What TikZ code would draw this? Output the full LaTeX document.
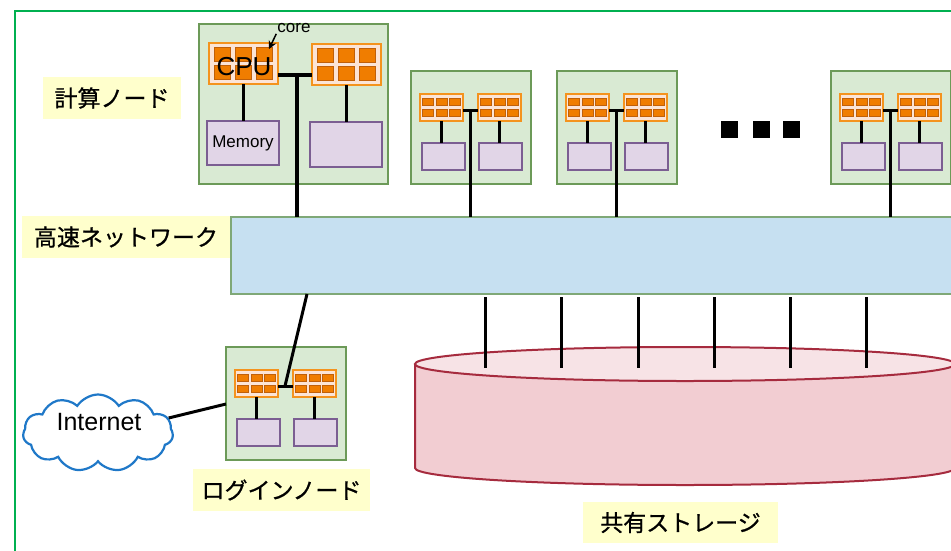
\documentclass[tikz,border=0pt]{standalone}
\usepackage{fontspec}
\setmainfont{Liberation Sans}
\newfontfamily\jpfont[FakeBold=0.8]{Noto Sans CJK JP}
\usetikzlibrary{shapes.symbols,arrows.meta}

\definecolor{framegreen}{HTML}{00B050}
\definecolor{nodefill}{HTML}{D9EAD3}
\definecolor{nodeline}{HTML}{6C9A58}
\definecolor{cpufill}{HTML}{FCE4D6}
\definecolor{cpuline}{HTML}{F4931E}
\definecolor{corefill}{HTML}{F07D00}
\definecolor{coreline}{HTML}{C0600A}
\definecolor{memfill}{HTML}{E1D5E7}
\definecolor{memline}{HTML}{7B5E92}
\definecolor{netfill}{HTML}{C6E0F1}
\definecolor{netline}{HTML}{7FA877}
\definecolor{tagfill}{HTML}{FFFFCC}
\definecolor{cylside}{HTML}{F2CDD2}
\definecolor{cyltop}{HTML}{F7E3E6}
\definecolor{cylline}{HTML}{A62B3E}
\definecolor{cloudline}{HTML}{1F78C8}

\tikzset{
  box/.style={rectangle, inner sep=0pt, outer sep=0pt},
  hostbox/.style={box, draw=nodeline, fill=nodefill, line width=1.3pt},
  cpubox/.style={box, draw=cpuline, fill=cpufill, line width=1.3pt},
  corebox/.style={box, draw=coreline, fill=corefill, line width=0.8pt},
  membox/.style={box, draw=memline, fill=memfill, line width=1.3pt},
  netbox/.style={box, draw=netline, fill=netfill, line width=1.3pt},
  tag/.style={box, fill=tagfill, font=\jpfont\fontsize{23}{25}\selectfont},
  wire/.style={line width=3.5pt, black},
  thinwire/.style={line width=3pt, black},
  stline/.style={line width=3pt, black, shorten <=3pt},
  dotbox/.style={box, fill=black, minimum size=17pt},
}

% CPU package: name, centre x, centre y, width, height, core width, core height
\newcommand\cpuchip[7]{%
  \node[cpubox, minimum width=#4pt, minimum height=#5pt] (#1) at (#2,#3) {};
  \foreach \i in {1,2,3}{
    \foreach \j in {1,2}{
      \pgfmathsetmacro\cxx{#2+(\i-2)*(#4+#6)/4}
      \pgfmathsetmacro\cyy{#3+(2*\j-3)*(#5+#7)/6}
      \node[corebox, minimum width=#6pt, minimum height=#7pt] (#1-c\j\i) at (\cxx,\cyy) {};
    }
  }
}

% Small host with two CPUs and two memories: name, left x, top y
\newcommand\smallhost[3]{%
  \node[hostbox, minimum width=120pt, minimum height=113pt] (#1) at (#2+60,#3+56.5) {};
  \cpuchip{#1-ca}{#2+30.5}{#3+36.5}{43}{27}{11}{7}
  \cpuchip{#1-cb}{#2+88.5}{#3+36.5}{43}{27}{11}{7}
  \node[membox, minimum width=43pt, minimum height=27pt] (#1-ma) at (#2+32.5,#3+85.5) {};
  \node[membox, minimum width=43pt, minimum height=27pt] (#1-mb) at (#2+89.5,#3+85.5) {};
  \coordinate (#1-j) at (#2+59,#3+39);
  \draw[thinwire] (#1-ca.south) -- (#1-ca.south |- #1-ma.north);
  \draw[thinwire] (#1-cb.south) -- (#1-cb.south |- #1-mb.north);
  \draw[thinwire] (#1-ca.east |- #1-j) -- (#1-cb.west |- #1-j);
}

\begin{document}
\begin{tikzpicture}[x=1pt,y=-1pt]
\useasboundingbox (0,0) rectangle (951,550);
\clip (0,0) rectangle (951,550);

% outer frame
\draw[framegreen, line width=2pt] (15,11) rectangle (1000,600);

% high-speed network
\node[netbox, minimum width=740pt, minimum height=77pt] (net) at (601,255.5) {};

% first compute node (detailed)
\node[hostbox, minimum width=189pt, minimum height=160pt] (cn1) at (293.5,104) {};
\cpuchip{cn1-ca}{243.5}{63.5}{69}{41}{16}{14}
\cpuchip{cn1-cb}{346.5}{64.5}{69}{41}{16}{14}
\node[membox, minimum width=72pt, minimum height=44pt, font=\fontsize{17}{19}\selectfont] (cn1-ma) at (243,143) {Memory};
\node[membox, minimum width=72pt, minimum height=45pt] (cn1-mb) at (346,144.5) {};
\coordinate (cn1-j) at (297,75);
\draw[wire] (cn1-ca.south) -- (cn1-ca.south |- cn1-ma.north);
\draw[wire] (cn1-cb.south) -- (cn1-cb.south |- cn1-mb.north);
\draw[wire] (cn1-ca.east |- cn1-j) -- (cn1-cb.west |- cn1-j);
\draw[wire] (cn1-j) -- (cn1-j |- net.north);
\node[font=\fontsize{26}{28}\selectfont, inner sep=0pt] (cputxt) at (244,67) {CPU};
\node[font=\fontsize{17}{19}\selectfont, inner sep=1pt] (coretxt) at (294,28) {core};
\coordinate (corehead) at (269,49);
\draw[-{Stealth[length=8pt,width=8pt]}, line width=1.5pt] (coretxt.south west) -- (corehead);

% further compute nodes
\smallhost{cn2}{411}{71}
\smallhost{cn3}{557}{71}
\smallhost{cn4}{831}{71}
\draw[thinwire] (cn2-j) -- (cn2-j |- net.north);
\draw[thinwire] (cn3-j) -- (cn3-j |- net.north);
\draw[thinwire] (cn4-j) -- (cn4-j |- net.north);

% ellipsis
\node[dotbox] (d1) at (729,129) {};
\node[dotbox] (d2) at (761,129) {};
\node[dotbox] (d3) at (791,129) {};

% shared storage cylinder
\fill[cylside] (415,364) -- (415,468) arc[start angle=180, end angle=360, x radius=270pt, y radius=17pt] -- (955,364) -- cycle;
\draw[cylline, line width=2pt] (415,364) -- (415,468) arc[start angle=180, end angle=360, x radius=270pt, y radius=17pt] -- (955,364);
\filldraw[fill=cyltop, draw=cylline, line width=2pt] (685,364) ellipse[x radius=270pt, y radius=17pt];
\foreach \k/\sx in {1/485,2/561,3/638,4/714,5/790,6/866}{
  \coordinate (st\k) at (\sx,368);
  \draw[stline] (st\k |- net.south) -- (st\k);
}

% login node and internet
\smallhost{lg}{226}{347}
\coordinate (lgtap) at (307,294);
\draw[thinwire] (lg-j) -- (lgtap);
\node[cloud, cloud puffs=11, cloud puff arc=115, aspect=2, draw=cloudline, line width=2.2pt, fill=white, minimum width=150pt, minimum height=77pt, inner sep=0pt] (inet) at (98,433) {};
\node[font=\fontsize{25}{27}\selectfont, inner sep=0pt] (inettxt) at (99,422) {Internet};
\coordinate (lgin) at (226,404);
\draw[thinwire] (inet.12) -- (lgin);

% labels
\node[tag, minimum width=138pt, minimum height=42pt] (lblcn) at (112,98) {計算ノード};
\node[tag, minimum width=208pt, minimum height=42pt] (lblnet) at (126,237) {高速ネットワーク};
\node[tag, minimum width=177pt, minimum height=42pt] (lbllg) at (281.5,490) {ログインノード};
\node[tag, minimum width=195pt, minimum height=41pt] (lblst) at (680.5,522.5) {共有ストレージ};
\end{tikzpicture}
\end{document}
